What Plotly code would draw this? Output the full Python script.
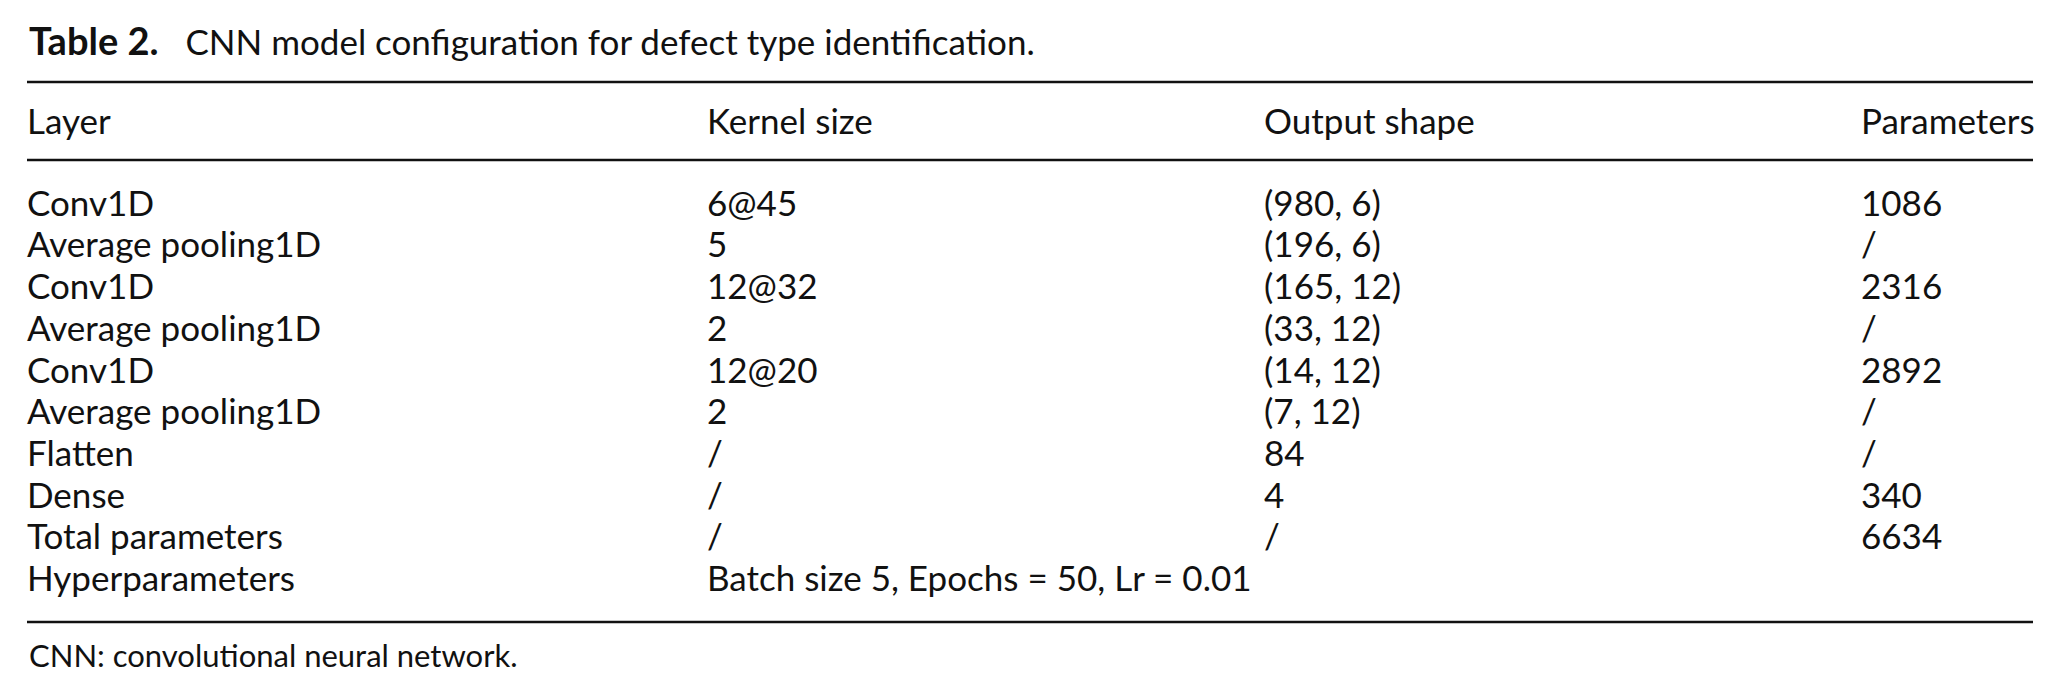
import plotly.graph_objects as go

# table contents
headers = ["Layer", "Kernel size", "Output shape", "Parameters"]
layers = ["Conv1D", "Average pooling1D", "Conv1D", "Average pooling1D", "Conv1D",
          "Average pooling1D", "Flatten", "Dense", "Total parameters", "Hyperparameters"]
kernel_sizes = ["6@45", "5", "12@32", "2", "12@20", "2", "/", "/", "/",
                "Batch size 5, Epochs = 50, Lr = 0.01"]
output_shapes = ["(980, 6)", "(196, 6)", "(165, 12)", "(33, 12)", "(14, 12)", "(7, 12)",
                 "84", "4", "/", ""]
parameters = ["1086", "/", "2316", "/", "2892", "/", "/", "340", "6634", ""]

title_bold = "Table 2."
title_text = "CNN model configuration for defect type identification."
footnote = "CNN: convolutional neural network."

W, H = 2059, 695
FONT = "Lato"
SIZE = 35
INK = "#111111"

col_x = [27, 707, 1264, 1861]      # left edge of each column (px)
row0_px, row_px = 207, 41.7        # centre of first body row, row pitch (px)


def to_row(px):
    return (px - row0_px) / row_px


columns = [layers, kernel_sizes, output_shapes, parameters]
rows = list(range(len(layers)))

fig = go.Figure()

for cx, head, values in zip(col_x, headers, columns):
    fig.add_trace(go.Scatter(
        x=[cx] * (len(values) + 1),
        y=[to_row(125)] + rows,
        text=[head] + values,
        mode="text",
        textposition="middle right",
        textfont=dict(family=FONT, size=SIZE, color=INK),
        hoverinfo="skip",
        showlegend=False,
    ))

# booktabs-like rules
for ypx in (82, 160, 622):
    fig.add_shape(type="line", x0=27, x1=2033, y0=to_row(ypx), y1=to_row(ypx),
                  xref="x", yref="y", line=dict(color=INK, width=2.5))

fig.add_annotation(
    x=27, y=to_row(40), xref="x", yref="y", xanchor="left", yanchor="middle",
    text='<b><span style="font-size:38px">{}</span></b>'.format(title_bold)
         + "&nbsp;" * 3 + title_text,
    showarrow=False, font=dict(family=FONT, size=SIZE, color=INK))

fig.add_annotation(
    x=27, y=to_row(655), xref="x", yref="y", xanchor="left", yanchor="middle",
    text=footnote, showarrow=False, font=dict(family=FONT, size=31, color=INK))

fig.update_layout(
    width=W, height=H,
    margin=dict(l=0, r=0, t=0, b=0),
    paper_bgcolor="white", plot_bgcolor="white",
    xaxis=dict(range=[0, W], visible=False, fixedrange=True),
    yaxis=dict(range=[to_row(H), to_row(0)], visible=False, fixedrange=True),
)

fig.write_html("out.html", config={"displayModeBar": False},
               post_script="document.body.style.margin='0';")
